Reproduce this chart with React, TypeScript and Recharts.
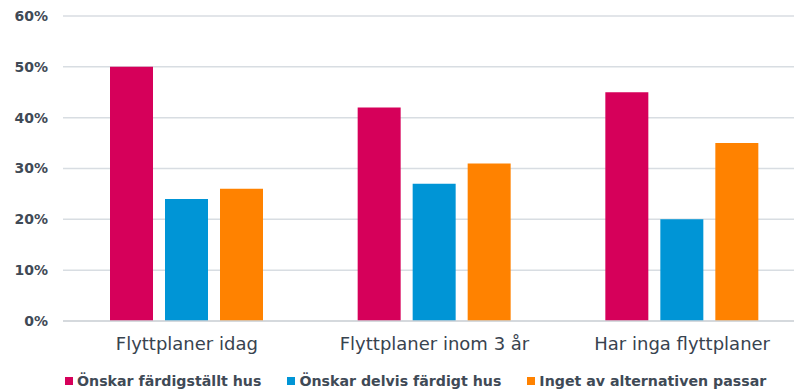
import { Bar, BarChart, CartesianGrid, Legend, XAxis, YAxis } from "recharts";

// Survey answers per moving-plan group (share of respondents)
const categories = ["Flyttplaner idag", "Flyttplaner inom 3 år", "Har inga flyttplaner"];
const fardigstallt = [0.5, 0.42, 0.45];
const delvisFardigt = [0.24, 0.27, 0.2];
const ingetPassar = [0.26, 0.31, 0.35];
const yTicks = [0, 0.1, 0.2, 0.3, 0.4, 0.5, 0.6];

const SERIES = [
	{ key: "fardigstallt", name: "Önskar färdigställt hus", color: "#D6005A" },
	{ key: "delvis", name: "Önskar delvis färdigt hus", color: "#0095D6" },
	{ key: "inget", name: "Inget av alternativen passar", color: "#FF8200" },
];

const data = categories.map((name, i) => ({
	name,
	fardigstallt: fardigstallt[i],
	delvis: delvisFardigt[i],
	inget: ingetPassar[i],
}));

const TEXT = "#3F4A56";
const FONT = "'DejaVu Sans', Verdana, sans-serif";

function LegendRow(): React.JSX.Element {
	return (
		<div style={styles.legend}>
			{SERIES.map((s) => (
				<div key={s.key} style={styles.legendItem}>
					<span style={{ ...styles.legendSwatch, backgroundColor: s.color }} />
					<span>{s.name}</span>
				</div>
			))}
		</div>
	);
}

export default function App(): React.JSX.Element {
	return (
		<div style={styles.frame}>
			<BarChart
				width={806}
				height={390}
				data={data}
				margin={{ top: 16, right: 0, bottom: 0, left: 0 }}
				barSize={43}
				barGap={12}
			>
				<CartesianGrid vertical={false} stroke="#D8DDE2" strokeWidth={1.5} />
				<XAxis
					dataKey="name"
					height={40}
					tickLine={false}
					tickSize={0}
					tickMargin={16}
					axisLine={{ stroke: "#D0D4D8", strokeWidth: 1.5 }}
					tick={{ fill: "#38434F", fontSize: 18, fontFamily: FONT }}
				/>
				<YAxis
					width={63}
					domain={[0, 0.6]}
					ticks={yTicks}
					axisLine={false}
					tickLine={false}
					tickSize={0}
					tickMargin={15}
					tickFormatter={(v: number) => `${Math.round(v * 100)}%`}
					tick={{ fill: TEXT, fontSize: 14, fontWeight: 700, fontFamily: FONT }}
				/>
				<Legend verticalAlign="bottom" height={29} content={() => <LegendRow />} />
				{SERIES.map((s) => (
					<Bar key={s.key} dataKey={s.key} name={s.name} fill={s.color} isAnimationActive={false} />
				))}
			</BarChart>
		</div>
	);
}

const styles = {
	frame: {
		position: "absolute",
		left: 0,
		top: 0,
		width: 794,
		height: 390,
		overflow: "hidden",
		backgroundColor: "#fff",
	},
	legend: {
		display: "flex",
		alignItems: "center",
		height: 19,
		paddingTop: 10,
		paddingLeft: 65,
		gap: 26,
		fontFamily: FONT,
		fontSize: 14.2,
		fontWeight: 700,
		color: TEXT,
		whiteSpace: "nowrap",
	},
	legendItem: {
		display: "flex",
		alignItems: "center",
		gap: 4,
	},
	legendSwatch: {
		display: "inline-block",
		width: 8,
		height: 8,
	},
} satisfies Record<string, React.CSSProperties>;
